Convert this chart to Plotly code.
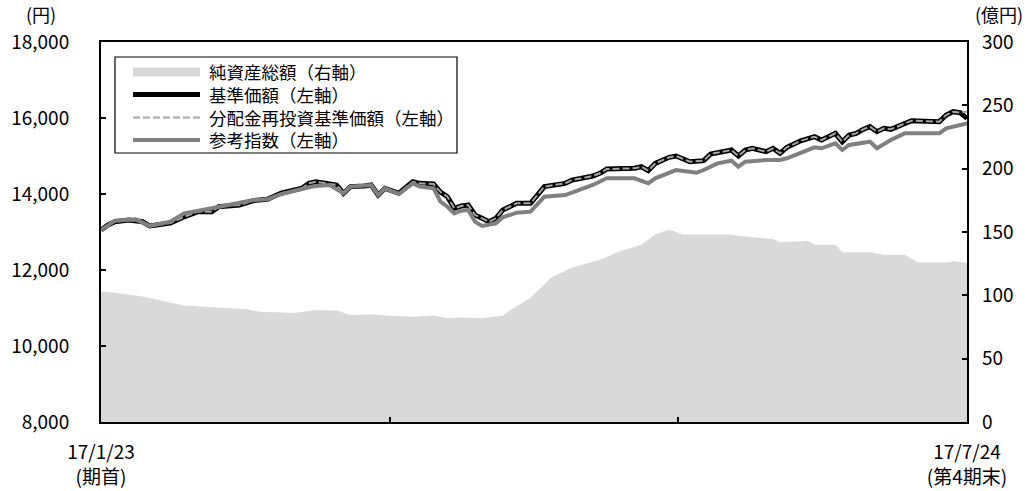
import plotly.graph_objects as go

# ---------------- data ----------------
# business-day index 0..125 from 17/1/23 to 17/7/24
day_nav = [0,1,2,4,6,7,8,10,12,14,16,17,20,22,24,26,29,30,31,33,34,35,36,38,39,40,41,43,45,46,
           48,49,50,51,52,53,54,55,56,57,58,60,62,64,67,68,71,72,73,77,78,79,80,82,83,85,87,88,91,92,
           93,94,96,97,98,99,101,103,104,106,107,108,109,110,111,112,113,114,117,121,122,123,124,125]
nav = [13050,13184,13270,13315,13270,13160,13184,13237,13400,13535,13535,13665,13710,13825,13860,14020,14150,14280,14323,14262,
       14237,14020,14195,14210,14237,13973,14150,14020,14323,14280,14262,14050,13930,13623,13684,13710,13447,13360,13270,13360,
       13580,13755,13755,14195,14280,14368,14473,14545,14657,14676,14718,14613,14806,14965,15000,14850,14877,15053,15158,15000,
       15158,15202,15114,15202,15070,15228,15400,15508,15420,15596,15376,15552,15596,15700,15772,15640,15728,15702,15930,15904,
       16080,16166,16140,15990]
reinvest = nav[:-1] + [16170]

day_ref = [0,2,5,7,10,12,16,20,22,24,26,30,31,33,35,36,38,39,40,41,43,45,46,48,49,50,51,52,53,54,
           55,57,58,60,62,64,67,71,73,77,79,80,83,85,86,87,89,91,92,93,96,98,99,103,104,106,107,108,111,112,
           113,114,116,121,122,124,125]
ref = [13050,13297,13333,13160,13270,13490,13623,13755,13842,13860,13999,14177,14210,14237,14020,14195,14210,14237,13973,14150,
       13999,14280,14195,14150,13797,13665,13490,13560,13580,13270,13160,13228,13386,13508,13535,13930,13973,14237,14413,14413,
       14280,14413,14631,14587,14560,14631,14806,14877,14718,14850,14894,14894,14940,15228,15202,15334,15158,15290,15376,15202,
       15308,15420,15596,15596,15728,15816,15860]

day_aum = [0,2,6,8,12,15,21,23,28,31,34,36,39,41,45,48,50,52,55,58,59,62,65,68,72,75,78,80,82,84,
           91,92,97,98,102,103,106,107,111,113,116,118,122,123,125]
aum = [103,102,99,96.5,92,91,89,87,86,88.5,88,84.5,85,84,83,84,82,82.5,82,84,88,98,114,122,128,135,140,148,152,148,
       148,147,144.5,142,143,140,140,134,134,132,132,126,126,127,125.5]

left_ticks = [8000, 10000, 12000, 14000, 16000, 18000]
right_ticks = [0, 50, 100, 150, 200, 250, 300]
x_ticks = [0, 125/3, 250/3, 125]
x_ticktext = ["17/1/23<br>(期首)", "", "", "17/7/24<br>(第4期末)"]

series_names = ["純資産総額（右軸）", "基準価額（左軸）", "分配金再投資基準価額（左軸）", "参考指数（左軸）"]

# ---------------- layout constants ----------------
W, H = 1029, 491
L, R, T, B = 101, 967, 42, 422
FONT = "Noto Sans CJK JP, Noto Sans, sans-serif"

def px(x):
    return (x - L) / (R - L)

def py(y):
    return (B - y) / (B - T)

fig = go.Figure()
fig.add_trace(go.Scatter(x=day_aum, y=aum, yaxis="y2", mode="lines", fill="tozeroy",
                         line=dict(width=0, color="#D9D9D9"), fillcolor="#D9D9D9",
                         name=series_names[0], hoverinfo="skip"))
fig.add_trace(go.Scatter(x=day_nav, y=nav, mode="lines",
                         line=dict(color="#000000", width=5), name=series_names[1]))
fig.add_trace(go.Scatter(x=day_nav, y=reinvest, mode="lines",
                         line=dict(color="#A6A6A6", width=2, dash="7px,3px"), name=series_names[2]))
fig.add_trace(go.Scatter(x=day_ref, y=ref, mode="lines",
                         line=dict(color="#808080", width=4), name=series_names[3]))

# manual legend
shapes = [dict(type="rect", xref="paper", yref="paper", x0=px(115), x1=px(457), y0=py(153), y1=py(57),
               line=dict(color="black", width=1.2), fillcolor="white", layer="above")]
rows = [72, 94.5, 117.5, 140]
styles = [dict(color="#D9D9D9", width=9), dict(color="#000000", width=5),
          dict(color="#A6A6A6", width=2, dash="7px,3px"), dict(color="#808080", width=4)]
for yy, st in zip(rows, styles):
    shapes.append(dict(type="line", xref="paper", yref="paper", x0=px(133), x1=px(200), y0=py(yy), y1=py(yy),
                       line=st, layer="above"))
annotations = [dict(xref="paper", yref="paper", x=px(207), y=py(106), text="<br>".join(series_names),
                    showarrow=False, xanchor="left", yanchor="middle", align="left",
                    font=dict(size=17.5, color="black", family=FONT))]
annotations.append(dict(xref="paper", yref="paper", x=px(41), y=py(14), text="(円)", showarrow=False,
                        xanchor="center", yanchor="middle", font=dict(size=18, color="black", family=FONT)))
annotations.append(dict(xref="paper", yref="paper", x=px(999), y=py(14), text="(億円)", showarrow=False,
                        xanchor="center", yanchor="middle", font=dict(size=18, color="black", family=FONT)))

fig.update_layout(
    width=W, height=H,
    margin=dict(l=L, r=W - R, t=T, b=H - B, autoexpand=False),
    paper_bgcolor="white", plot_bgcolor="white",
    showlegend=False,
    font=dict(family=FONT, size=19, color="black"),
    shapes=shapes, annotations=annotations,
    xaxis=dict(range=[0, 125], tickvals=x_ticks, ticktext=x_ticktext, ticks="inside", ticklen=5,
               tickwidth=1.5, tickcolor="black", showgrid=False, zeroline=False, automargin=False,
               showline=True, linecolor="black", linewidth=2, mirror=True, ticklabelstandoff=12),
    yaxis=dict(range=[8000, 18000], tickvals=left_ticks, ticktext=[f"{v:,}" for v in left_ticks],
               ticks="inside", ticklen=5, tickwidth=1.5, tickcolor="black", showgrid=False, zeroline=False,
               automargin=False,
               showline=True, linecolor="black", linewidth=2, mirror=True, ticklabelstandoff=26),
    yaxis2=dict(range=[0, 300], tickvals=right_ticks, overlaying="y", side="right", automargin=False,
                ticks="inside", ticklen=5, tickwidth=1.5, tickcolor="black", showgrid=False, zeroline=False,
                showline=False, ticklabelstandoff=14),
)

fig.write_html("out.html")
